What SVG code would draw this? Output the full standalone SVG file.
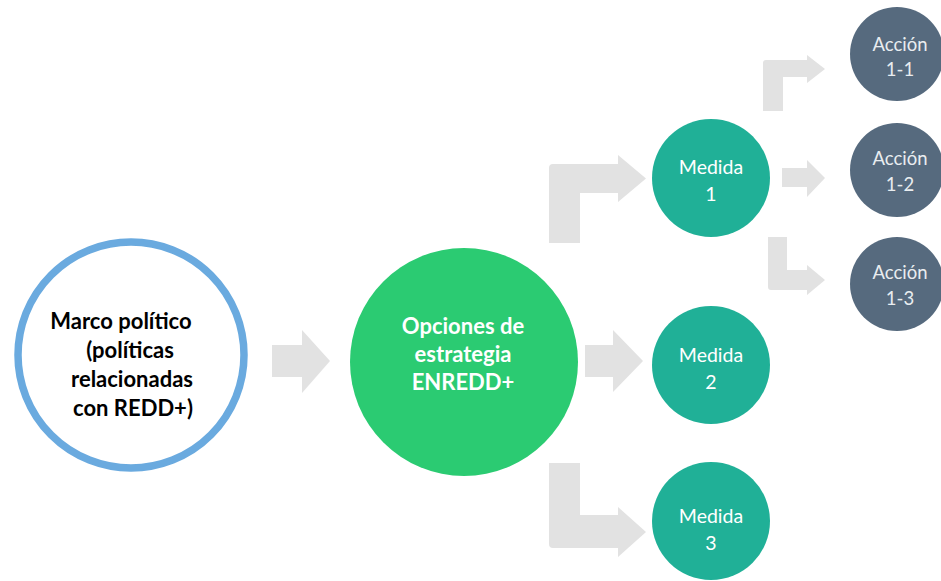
<svg xmlns="http://www.w3.org/2000/svg" width="941" height="581" viewBox="0 0 941 581">
<style>
.arr{fill:#e2e2e2}
.t{font-family:Lato,"Liberation Sans",sans-serif;text-anchor:middle}
.b{font-weight:bold;font-size:22px}
.w{fill:#ffffff}
.m{font-size:19.5px;fill:#ffffff}
.a{font-size:18.5px;fill:#e9edf0}
.med{fill:#20b097}
.acc{fill:#566a7e}
</style>
<rect width="941" height="581" fill="#ffffff"/>
<g id="connectors">
<path class="arr" d="M272,345 L302,345 L302,330 L330,361 L302,393 L302,377 L272,377 Z"/>
<path class="arr" d="M585,345 L613,345 L613,330 L643,361 L613,392 L613,377 L585,377 Z"/>
<path class="arr" d="M549,243 L549,168 Q549,164 553,164 L618,164 L618,155 L646,178.5 L618,202 L618,193 L580,193 L580,243 Z"/>
<path class="arr" d="M549,463 L580,463 L580,515 L618,515 L618,507 L646,532 L618,557 L618,548 L553,548 Q549,548 549,544 Z"/>
<path class="arr" d="M763,111 L763,63 Q763,60 766,60 L807,60 L807,55 L825,69 L807,83 L807,77 L783,77 L783,111 Z"/>
<path class="arr" d="M782,168 L807,168 L807,160 L825,178 L807,197 L807,187 L782,187 Z"/>
<path class="arr" d="M768,237 L787,237 L787,270 L807,270 L807,265 L825,280 L807,295 L807,290 L771,290 Q768,290 768,287 Z"/>
</g>
<g id="marco">
<circle cx="131" cy="355" r="113" fill="#ffffff" stroke="#6aaadf" stroke-width="7.5"/>
<text class="t b" x="121" y="329">Marco político</text>
<text class="t b" x="130" y="358">(políticas</text>
<text class="t b" x="132" y="387">relacionadas</text>
<text class="t b" x="133" y="416">con REDD+)</text>
</g>
<g id="opciones">
<circle cx="464" cy="362" r="114" fill="#2bcb72"/>
<text class="t b w" x="463" y="334">Opciones de</text>
<text class="t b w" x="463" y="362">estrategia</text>
<text class="t b w" x="463" y="390">ENREDD+</text>
</g>
<g id="medida1">
<circle class="med" cx="711" cy="178" r="59"/>
<text class="t m" x="711" y="174">Medida</text>
<text class="t m" x="711" y="201">1</text>
</g>
<g id="medida2">
<circle class="med" cx="711" cy="365" r="59"/>
<text class="t m" x="711" y="362">Medida</text>
<text class="t m" x="711" y="389">2</text>
</g>
<g id="medida3">
<circle class="med" cx="711" cy="521" r="59"/>
<text class="t m" x="711" y="523">Medida</text>
<text class="t m" x="711" y="550">3</text>
</g>
<g id="accion11">
<circle class="acc" cx="897" cy="54" r="47"/>
<text class="t a" x="900" y="51">Acción</text>
<text class="t a" x="900" y="76">1-1</text>
</g>
<g id="accion12">
<circle class="acc" cx="897" cy="170" r="47"/>
<text class="t a" x="900" y="165">Acción</text>
<text class="t a" x="900" y="191">1-2</text>
</g>
<g id="accion13">
<circle class="acc" cx="897" cy="284" r="47"/>
<text class="t a" x="900" y="279">Acción</text>
<text class="t a" x="900" y="305">1-3</text>
</g>
</svg>
